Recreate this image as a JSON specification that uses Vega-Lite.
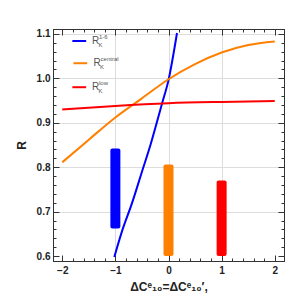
{
  "$schema": "https://vega.github.io/schema/vega-lite/v6.json",
  "width": 231,
  "height": 232,
  "autosize": "none",
  "padding": {"left": 53, "top": 29, "right": 16, "bottom": 41},
  "background": "white",
  "config": {
    "view": {"stroke": "#333", "strokeWidth": 1},
    "axis": {"labelFont": "Liberation Sans", "labelFontWeight": "bold", "labelFontSize": 10, "labelColor": "#222", "titleFont": "Liberation Sans", "titleFontWeight": "bold", "titleFontSize": 12, "titleColor": "#222", "domain": true, "domainColor": "#333", "domainWidth": 1, "ticks": true, "tickColor": "#333", "tickWidth": 1, "gridColor": "#dddddd", "labelFlush": false, "labelOverlap": false}
  },
  "datasets": {
    "curves": [
      {"series": "blue", "x": -1.02, "R": 0.598},
      {"series": "blue", "x": -0.87, "R": 0.658},
      {"series": "blue", "x": -0.69, "R": 0.718},
      {"series": "blue", "x": -0.51, "R": 0.786},
      {"series": "blue", "x": -0.33, "R": 0.854},
      {"series": "blue", "x": -0.12, "R": 0.944},
      {"series": "blue", "x": 0.0, "R": 0.996},
      {"series": "blue", "x": 0.16, "R": 1.102},
      {"series": "orange", "x": -2.0, "R": 0.811},
      {"series": "orange", "x": -1.5, "R": 0.862},
      {"series": "orange", "x": -1.0, "R": 0.912},
      {"series": "orange", "x": -0.5, "R": 0.955},
      {"series": "orange", "x": 0.0, "R": 0.998},
      {"series": "orange", "x": 0.5, "R": 1.032},
      {"series": "orange", "x": 1.0, "R": 1.058},
      {"series": "orange", "x": 1.5, "R": 1.075},
      {"series": "orange", "x": 2.0, "R": 1.083},
      {"series": "red", "x": -2.0, "R": 0.930},
      {"series": "red", "x": -1.0, "R": 0.938},
      {"series": "red", "x": 0.0, "R": 0.944},
      {"series": "red", "x": 1.0, "R": 0.947},
      {"series": "red", "x": 2.0, "R": 0.949}
    ],
    "bars": [
      {"series": "blue", "x": -1.0, "lo": 0.662, "hi": 0.842},
      {"series": "orange", "x": 0.0, "lo": 0.6, "hi": 0.806},
      {"series": "red", "x": 1.0, "lo": 0.6, "hi": 0.77}
    ],
    "legend": [
      {"series": "blue", "x1": -1.81, "x2": -1.55, "xt": -1.44, "y": 1.084, "sup": "1-6"},
      {"series": "orange", "x1": -1.79, "x2": -1.53, "xt": -1.41, "y": 1.034, "sup": "central"},
      {"series": "red", "x1": -1.81, "x2": -1.55, "xt": -1.44, "y": 0.980, "sup": "low"}
    ]
  },
  "resolve": {"axis": {"x": "independent", "y": "independent"}},
  "layer": [
    {
      "data": {"name": "curves"},
      "mark": {"type": "line", "strokeWidth": 2, "interpolate": "monotone", "clip": true},
      "encoding": {
        "x": {"field": "x", "type": "quantitative", "scale": {"domain": [-2.08, 2.08], "nice": false, "zero": false},
          "axis": {"orient": "bottom", "title": "ΔCᵉ₁₀=ΔCᵉ₁₀′,", "titlePadding": 6,
            "values": [-2, -1, 0, 1, 2],
            "labelExpr": "datum.value < 0 ? '\u2212' + format(-datum.value, 'd') : format(datum.value, 'd')",
            "tickSize": -6, "labelPadding": 10,
            "grid": true,
            "gridOpacity": {"condition": {"test": "abs(datum.value) < 1.5", "value": 1}, "value": 0}}},
        "y": {"field": "R", "type": "quantitative", "scale": {"domain": [0.589, 1.111], "nice": false, "zero": false},
          "axis": {"orient": "left", "title": "R", "titlePadding": 8,
            "values": [0.6, 0.7, 0.8, 0.9, 1.0, 1.1],
            "format": ".1f",
            "tickSize": -6, "labelPadding": 9,
            "grid": true,
            "gridOpacity": {"condition": {"test": "datum.value > 0.65", "value": 1}, "value": 0}}},
        "color": {"field": "series", "type": "nominal", "scale": {"domain": ["blue", "orange", "red"], "range": ["#0000ff", "#ff8000", "#ff0000"]}, "legend": null},
        "detail": {"field": "series"}
      }
    },
    {
      "data": {"name": "bars"},
      "mark": {"type": "bar", "size": 10, "cornerRadius": 2},
      "encoding": {
        "x": {"field": "x", "type": "quantitative", "scale": {"domain": [-2.08, 2.08], "nice": false, "zero": false},
          "axis": {"orient": "top", "title": null, "labels": false, "grid": false, "values": [-2, -1, 0, 1, 2], "tickSize": -6}},
        "y": {"field": "lo", "type": "quantitative", "scale": {"domain": [0.589, 1.111], "nice": false, "zero": false},
          "axis": {"orient": "right", "title": null, "labels": false, "grid": false, "values": [0.6, 0.7, 0.8, 0.9, 1.0, 1.1], "tickSize": -6}},
        "y2": {"field": "hi"},
        "color": {"field": "series", "type": "nominal", "scale": {"domain": ["blue", "orange", "red"], "range": ["#0000ff", "#ff8000", "#ff0000"]}, "legend": null}
      }
    },
    {
      "data": {"name": "legend"},
      "mark": {"type": "rule", "strokeWidth": 2},
      "encoding": {
        "x": {"field": "x1", "type": "quantitative", "scale": {"domain": [-2.08, 2.08], "nice": false, "zero": false},
          "axis": {"orient": "bottom", "title": null, "labels": false, "grid": false, "tickSize": -3,
            "values": [-1.8,-1.6,-1.4,-1.2,-0.8,-0.6,-0.4,-0.2,0.2,0.4,0.6,0.8,1.2,1.4,1.6,1.8]}},
        "x2": {"field": "x2"},
        "y": {"field": "y", "type": "quantitative", "scale": {"domain": [0.589, 1.111], "nice": false, "zero": false},
          "axis": {"orient": "left", "title": null, "labels": false, "grid": false, "tickSize": -3,
            "values": [0.62,0.64,0.66,0.68,0.72,0.74,0.76,0.78,0.82,0.84,0.86,0.88,0.92,0.94,0.96,0.98,1.02,1.04,1.06,1.08]}},
        "color": {"field": "series", "type": "nominal", "scale": {"domain": ["blue", "orange", "red"], "range": ["#0000ff", "#ff8000", "#ff0000"]}, "legend": null}
      }
    },
    {
      "data": {"name": "legend"},
      "mark": {"type": "text", "align": "left", "baseline": "middle", "font": "Liberation Sans", "fontSize": 10, "color": "#555"},
      "encoding": {
        "x": {"field": "xt", "type": "quantitative", "scale": {"domain": [-2.08, 2.08], "nice": false, "zero": false},
          "axis": {"orient": "top", "title": null, "labels": false, "grid": false, "tickSize": -3,
            "values": [-1.8,-1.6,-1.4,-1.2,-0.8,-0.6,-0.4,-0.2,0.2,0.4,0.6,0.8,1.2,1.4,1.6,1.8]}},
        "y": {"field": "y", "type": "quantitative", "scale": {"domain": [0.589, 1.111], "nice": false, "zero": false},
          "axis": {"orient": "right", "title": null, "labels": false, "grid": false, "tickSize": -3,
            "values": [0.62,0.64,0.66,0.68,0.72,0.74,0.76,0.78,0.82,0.84,0.86,0.88,0.92,0.94,0.96,0.98,1.02,1.04,1.06,1.08]}},
        "text": {"value": "R"}
      }
    },
    {
      "data": {"name": "legend"},
      "mark": {"type": "text", "align": "left", "baseline": "middle", "font": "Liberation Sans", "fontSize": 6, "color": "#555", "dx": 6.5, "dy": 4},
      "encoding": {
        "x": {"field": "xt", "type": "quantitative", "scale": {"domain": [-2.08, 2.08], "nice": false, "zero": false}, "axis": null},
        "y": {"field": "y", "type": "quantitative", "scale": {"domain": [0.589, 1.111], "nice": false, "zero": false}, "axis": null},
        "text": {"value": "K"}
      }
    },
    {
      "data": {"name": "legend"},
      "mark": {"type": "text", "align": "left", "baseline": "middle", "font": "Liberation Sans", "fontSize": 6, "color": "#555", "dx": 7, "dy": -4},
      "encoding": {
        "x": {"field": "xt", "type": "quantitative", "scale": {"domain": [-2.08, 2.08], "nice": false, "zero": false}, "axis": null},
        "y": {"field": "y", "type": "quantitative", "scale": {"domain": [0.589, 1.111], "nice": false, "zero": false}, "axis": null},
        "text": {"field": "sup"}
      }
    }
  ]
}
